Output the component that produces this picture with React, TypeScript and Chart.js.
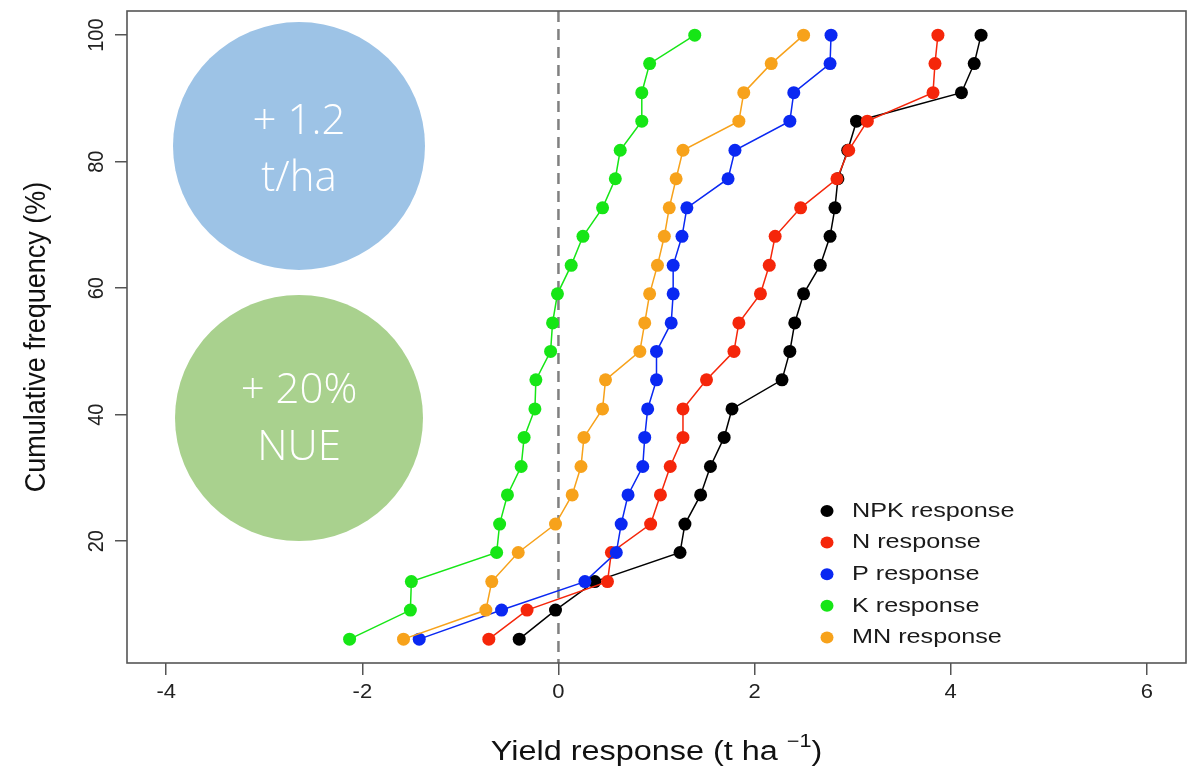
import React, { useEffect, useRef } from "react";
import { Chart, registerables } from "chart.js";

Chart.register(...registerables);

const cumFreq = [4.5, 9.1, 13.6, 18.2, 22.7, 27.3, 31.8, 36.4, 40.9, 45.5, 50, 54.5, 59.1, 63.6, 68.2, 72.7, 77.3, 81.8, 86.4, 90.9, 95.5, 100];

const npkResponse = [-0.40, -0.03, 0.37, 1.24, 1.29, 1.45, 1.55, 1.69, 1.77, 2.28, 2.36, 2.41, 2.50, 2.67, 2.77, 2.82, 2.85, 2.95, 3.04, 4.11, 4.24, 4.31];
const nResponse = [-0.71, -0.32, 0.50, 0.54, 0.94, 1.04, 1.14, 1.27, 1.27, 1.51, 1.79, 1.84, 2.06, 2.15, 2.21, 2.47, 2.84, 2.96, 3.15, 3.82, 3.84, 3.87];
const pResponse = [-1.42, -0.58, 0.27, 0.59, 0.64, 0.71, 0.86, 0.88, 0.91, 1.00, 1.00, 1.15, 1.17, 1.17, 1.26, 1.31, 1.73, 1.80, 2.36, 2.40, 2.77, 2.78];
const kResponse = [-2.13, -1.51, -1.50, -0.63, -0.60, -0.52, -0.38, -0.35, -0.24, -0.23, -0.08, -0.06, -0.01, 0.13, 0.25, 0.45, 0.58, 0.63, 0.85, 0.85, 0.93, 1.39];
const mnResponse = [-1.58, -0.74, -0.68, -0.41, -0.03, 0.14, 0.23, 0.26, 0.45, 0.48, 0.83, 0.88, 0.93, 1.01, 1.08, 1.13, 1.20, 1.27, 1.84, 1.89, 2.17, 2.50];

const seriesLabels = ["NPK response", "N response", "P response", "K response", "MN response"];
const seriesColors = ["#000000", "#F5260A", "#0A28F2", "#16E616", "#F7A21B"];

const xTicks = [-4, -2, 0, 2, 4, 6];
const yTicks = [20, 40, 60, 80, 100];

const xTitle = "Yield response (t ha ";
const xTitleSup = "\u22121";
const yTitle = "Cumulative frequency (%)";

const bubbleTexts = [["+ 1.2", "t/ha"], ["+ 20%", "NUE"]];
const bubbleColors = ["#9DC3E6", "#A9D18E"];

const W = 1198;
const H = 772;
const FONT = "'Liberation Sans', Arial, sans-serif";
const STRETCH = 1.2;

export default function App() {
  const ref = useRef<HTMLCanvasElement | null>(null);

  useEffect(() => {
    const canvas = ref.current;
    if (!canvas) return;
    const allSeries = [npkResponse, nResponse, pResponse, kResponse, mnResponse];
    const datasets = allSeries.map((xs, i) => ({
      label: seriesLabels[i],
      data: xs.map((x, j) => ({ x, y: cumFreq[j] })),
      showLine: true,
      borderColor: seriesColors[i],
      backgroundColor: seriesColors[i],
      borderWidth: 1.5,
      pointRadius: 6.5,
      pointBorderWidth: 0,
      pointBackgroundColor: seriesColors[i],
      order: 5 - i,
    }));

    const stretchedText = (ctx: any, text: string, x: number, y: number, sx: number) => {
      ctx.save();
      ctx.translate(x, y);
      ctx.scale(sx, 1);
      ctx.fillText(text, 0, 0);
      ctx.restore();
    };

    const decor = {
      id: "decor",
      beforeDatasetsDraw(chart: any) {
        const { ctx, chartArea, scales } = chart;
        const x0 = scales.x.getPixelForValue(0);
        ctx.save();
        ctx.strokeStyle = "#808080";
        ctx.lineWidth = 2.5;
        ctx.setLineDash([11, 7]);
        ctx.beginPath();
        ctx.moveTo(x0, chartArea.top);
        ctx.lineTo(x0, chartArea.bottom);
        ctx.stroke();
        ctx.restore();

        const centers = [
          { cx: 299, cy: 146, rx: 126, ry: 124, dy: 4 },
          { cx: 299, cy: 418, rx: 124, ry: 123, dy: 1 },
        ];
        centers.forEach((c, i) => {
          ctx.save();
          ctx.fillStyle = bubbleColors[i];
          ctx.beginPath();
          ctx.ellipse(c.cx, c.cy, c.rx, c.ry, 0, 0, Math.PI * 2);
          ctx.fill();
          ctx.fillStyle = "#ffffff";
          ctx.font = "300 42px 'Open Sans', 'Noto Sans', sans-serif";
          ctx.textAlign = "center";
          ctx.textBaseline = "middle";
          ctx.fillText(bubbleTexts[i][0], c.cx, c.cy - 28 + c.dy);
          ctx.fillText(bubbleTexts[i][1], c.cx, c.cy + 29 + c.dy);
          ctx.restore();
        });
      },
      afterDraw(chart: any) {
        const { ctx, chartArea, scales } = chart;
        ctx.save();
        ctx.strokeStyle = "#555555";
        ctx.lineWidth = 1.6;
        ctx.strokeRect(chartArea.left, chartArea.top, chartArea.right - chartArea.left, chartArea.bottom - chartArea.top);

        // y tick labels (rotated)
        ctx.fillStyle = "#222222";
        ctx.font = `20px ${FONT}`;
        ctx.textAlign = "center";
        ctx.textBaseline = "middle";
        yTicks.forEach((v) => {
          const py = scales.y.getPixelForValue(v);
          ctx.save();
          ctx.translate(97, py);
          ctx.scale(1.12, 1);
          ctx.rotate(-Math.PI / 2);
          ctx.fillText(String(v), 0, 0);
          ctx.restore();
        });

        // x tick labels
        ctx.font = `20px ${FONT}`;
        ctx.textAlign = "center";
        ctx.textBaseline = "middle";
        xTicks.forEach((v) => {
          const px = scales.x.getPixelForValue(v);
          stretchedText(ctx, String(v), px, 692, 1.1);
        });

        // y title
        ctx.save();
        ctx.font = `27px ${FONT}`;
        ctx.fillStyle = "#111111";
        ctx.translate(37, (chartArea.top + chartArea.bottom) / 2);
        ctx.scale(1.12, 1);
        ctx.rotate(-Math.PI / 2);
        ctx.textAlign = "center";
        ctx.textBaseline = "middle";
        ctx.fillText(yTitle, 0, 0);
        ctx.restore();

        // x title with superscript
        ctx.save();
        ctx.font = `27px ${FONT}`;
        const mainW = ctx.measureText(xTitle).width;
        ctx.font = `18px ${FONT}`;
        const supW = ctx.measureText(xTitleSup).width;
        ctx.font = `27px ${FONT}`;
        const closeW = ctx.measureText(")").width;
        const total = (mainW + supW + closeW) * STRETCH;
        const cx = (chartArea.left + chartArea.right) / 2;
        ctx.translate(cx - total / 2, 760);
        ctx.scale(STRETCH, 1);
        ctx.textAlign = "left";
        ctx.textBaseline = "alphabetic";
        ctx.fillStyle = "#111111";
        let sx = 0;
        ctx.fillText(xTitle, sx, 0);
        sx += mainW;
        ctx.font = `18px ${FONT}`;
        ctx.fillText(xTitleSup, sx, -13);
        sx += supW;
        ctx.font = `27px ${FONT}`;
        ctx.fillText(")", sx, 0);
        ctx.restore();

        // legend
        ctx.font = `21px ${FONT}`;
        ctx.textAlign = "left";
        ctx.textBaseline = "middle";
        seriesLabels.forEach((lab, i) => {
          const ly = 511 + i * 31.6;
          ctx.fillStyle = seriesColors[i];
          ctx.beginPath();
          ctx.ellipse(827, ly, 6.5, 6, 0, 0, Math.PI * 2);
          ctx.fill();
          ctx.fillStyle = "#1a1a1a";
          stretchedText(ctx, lab, 852, ly, STRETCH);
        });
        ctx.restore();
      },
    };

    const chart = new Chart(canvas, {
      type: "scatter",
      data: { datasets },
      options: {
        animation: false,
        responsive: false,
        maintainAspectRatio: false,
        layout: { padding: { left: 0, top: 11, right: 12, bottom: 0 } },
        plugins: { legend: { display: false }, tooltip: { enabled: false } },
        scales: {
          x: {
            type: "linear",
            min: -4.4,
            max: 6.4,
            afterBuildTicks: (scale: any) => {
              scale.ticks = xTicks.map((v) => ({ value: v }));
            },
            afterFit: (scale: any) => {
              scale.height = H - 663;
            },
            border: { display: false },
            grid: { drawOnChartArea: false, drawTicks: true, tickLength: 12, color: "#555555", lineWidth: 1.5 },
            ticks: { display: false },
          },
          y: {
            type: "linear",
            min: 0.73,
            max: 103.82,
            afterBuildTicks: (scale: any) => {
              scale.ticks = yTicks.map((v) => ({ value: v }));
            },
            afterFit: (scale: any) => {
              scale.width = 127;
            },
            border: { display: false },
            grid: { drawOnChartArea: false, drawTicks: true, tickLength: 12, color: "#555555", lineWidth: 1.5 },
            ticks: { display: false },
          },
        },
      },
      plugins: [decor],
    });
    return () => chart.destroy();
  }, []);

  return (
    <div style={{ position: "absolute", left: 0, top: 0, width: W, height: H, background: "#ffffff" }}>
      <canvas ref={ref} width={W} height={H} style={{ display: "block", width: W, height: H }} />
    </div>
  );
}
